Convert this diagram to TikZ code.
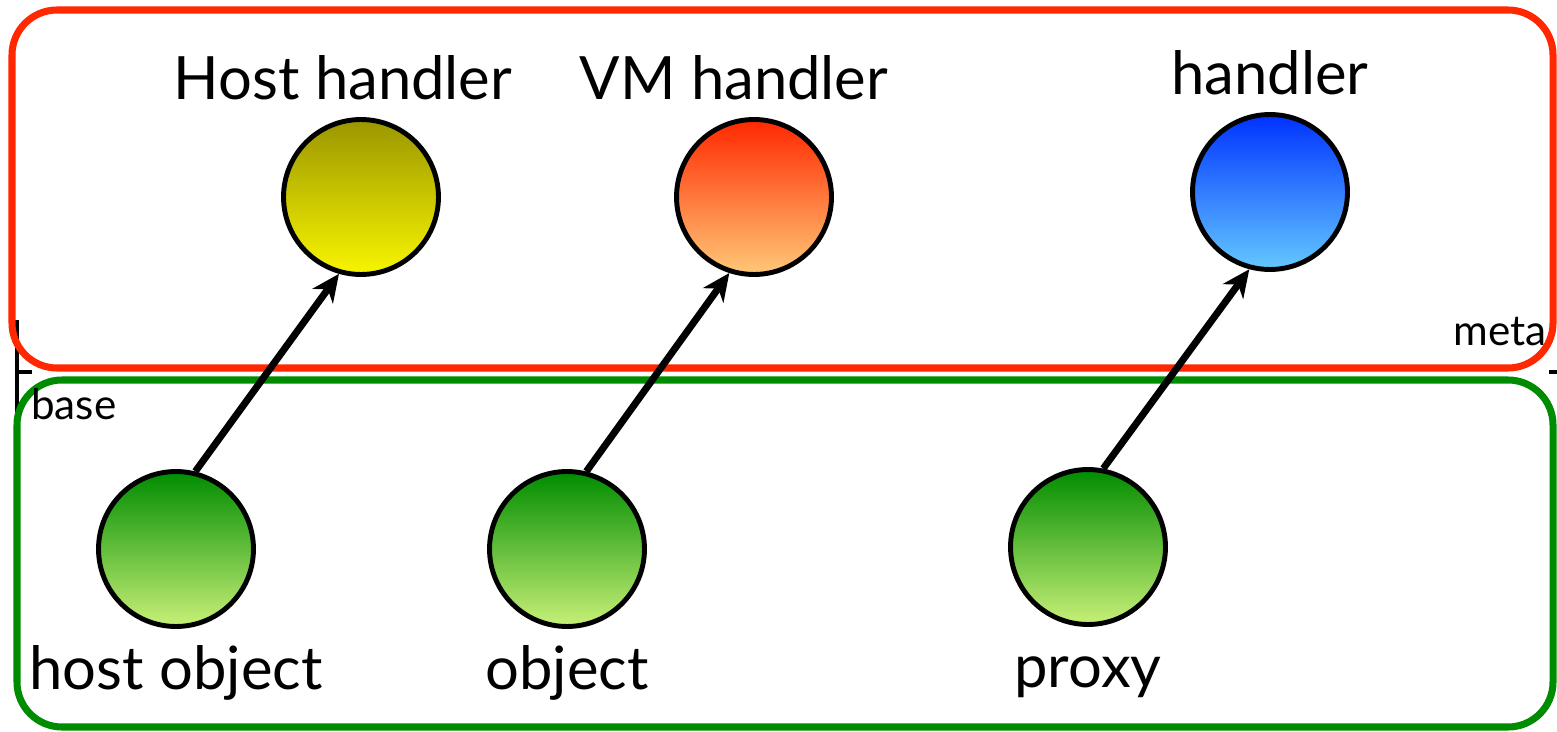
\documentclass[tikz,border=0pt]{standalone}
\usepackage{fontspec}
\setmainfont{Lato}
\usetikzlibrary{arrows.meta, positioning}

\definecolor{metared}{RGB}{255,40,0}
\definecolor{basegreen}{RGB}{0,140,0}

\begin{document}
\begin{tikzpicture}[x=0.02cm, y=0.02cm]
            % Styles
            \tikzstyle{ball} = [circle, draw, line width=2.8pt, minimum size=3.1cm, inner sep=0pt]
            \tikzstyle{yellow_ball} = [ball, top color={rgb,255:red,155;green,150;blue,0}, bottom color={rgb,255:red,248;green,245;blue,0}]
            \tikzstyle{orange_ball} = [ball, top color={rgb,255:red,255;green,40;blue,0}, bottom color={rgb,255:red,255;green,200;blue,120}]
            \tikzstyle{blue_ball} = [ball, top color={rgb,255:red,0;green,50;blue,255}, bottom color={rgb,255:red,100;green,200;blue,255}]
            \tikzstyle{green_ball} = [ball, top color={rgb,255:red,0;green,140;blue,0}, bottom color={rgb,255:red,200;green,240;blue,120}]
            \tikzstyle{big_label} = [inner sep=0pt, font=\fontsize{34}{40}\selectfont, text height=25pt, text depth=8.5pt]
            \tikzstyle{small_label} = [inner sep=0pt, font=\fontsize{24}{28}\selectfont]
            \tikzstyle{level} = [rounded corners=0.9cm, line width=4pt]
            \tikzstyle{ref} = [-{Stealth[length=0.55cm, width=0.5cm, inset=0.17cm]}, line width=4pt]
            \useasboundingbox (0,0) rectangle (1557,731);
            % Frame behind
            \draw[line width=2pt] (17,411) -- (17,311);
            \draw[line width=2pt] (17,359) -- (32,359);
            \draw[line width=2pt] (1549,359) -- (1557,359);
            % Levels
            \draw[level, metared] (12,721) rectangle (1553,363);
            \draw[level, basegreen] (17,351) rectangle (1553,4);
            \node[small_label, anchor=base east] (meta_label) at (1547,386) {meta};
            \node[small_label, anchor=base west] (base_label) at (31,312) {base};
            % Meta level
            \node[yellow_ball] (host_handler) at (361,534) {};
            \node[orange_ball] (vm_handler) at (754,534) {};
            \node[blue_ball] (handler) at (1270,539) {};
            \node[big_label, above=0.04cm of host_handler, xshift=-0.36cm] (host_handler_label) {Host handler};
            \node[big_label, above=0.04cm of vm_handler, xshift=-0.4cm] (vm_handler_label) {VM handler};
            \node[big_label, above=0.04cm of handler] (handler_label) {handler};
            % Base level
            \node[green_ball] (host_object) at (176,182) {};
            \node[green_ball] (object) at (567,182) {};
            \node[green_ball] (proxy) at (1088,184) {};
            \node[big_label, below=0.32cm of host_object] (host_object_label) {host object};
            \node[big_label, below=0.32cm of object] (object_label) {object};
            \node[big_label, below=0.32cm of proxy] (proxy_label) {proxy};
            % Connections
            \draw[ref] (host_object.76) -- (host_handler.-106);
            \draw[ref] (object.76) -- (vm_handler.-108);
            \draw[ref] (proxy.79) -- (handler.-105);
        \end{tikzpicture}
\end{document}
